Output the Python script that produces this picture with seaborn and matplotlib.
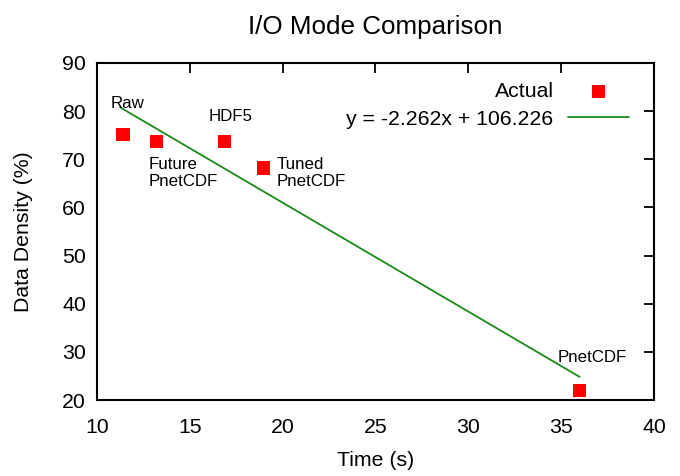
import numpy as np
import pandas as pd
import matplotlib
matplotlib.use("Agg")
import matplotlib.pyplot as plt
import seaborn as sns

modes = ["Raw", "Future\nPnetCDF", "HDF5", "Tuned\nPnetCDF", "PnetCDF"]
time_s = [11.4, 13.2, 16.85, 18.95, 36.0]
density = [75.2, 73.7, 73.7, 68.2, 22.0]
slope = -2.262
intercept = 106.226
fit_x = [11.25, 36.0]

sns.set_theme(style="white")
plt.rcParams["font.family"] = ["Liberation Sans", "DejaVu Sans"]
plt.rcParams["text.color"] = "black"
plt.rcParams["axes.labelcolor"] = "black"

df = pd.DataFrame({"Time": time_s, "Density": density, "Mode": modes})
fit_df = pd.DataFrame({"x": fit_x, "y": [slope * v + intercept for v in fit_x]})

fig = plt.figure(figsize=(6.8, 4.76), dpi=100)
ax = fig.add_axes([97 / 680, 1 - 400 / 476, (654 - 97) / 680, (400 - 63) / 476])

sns.scatterplot(data=df, x="Time", y="Density", ax=ax, marker="s", s=90,
                color="#ff0000", edgecolor="none", label="Actual", zorder=3)
sns.lineplot(data=fit_df, x="x", y="y", ax=ax, color="#1a8a1a", linewidth=1.3,
             label=f"y = {slope:.3f}x + {intercept:.3f}", zorder=2)

# point labels
offsets = {
    "Raw": (-0.65, 6.3, "left", "center"),
    "Future\nPnetCDF": (-0.4, -3.2, "left", "top"),
    "HDF5": (0.37, 5.1, "center", "center"),
    "Tuned\nPnetCDF": (0.75, 2.2, "left", "top"),
    "PnetCDF": (0.7, 6.8, "center", "center"),
}
for m, x, y in zip(modes, time_s, density):
    dx, dy, ha, va = offsets[m]
    ax.text(x + dx, y + dy, m, ha=ha, va=va, fontsize=12.2, color="black",
            linespacing=1.15)

ax.set_xlim(10, 40)
ax.set_ylim(20, 90)
ax.set_xticks([10, 15, 20, 25, 30, 35, 40])
ax.set_yticks([20, 30, 40, 50, 60, 70, 80, 90])
ax.tick_params(direction="in", length=7, width=1.3, top=True, right=True,
               labelsize=15.3, colors="black")
ax.tick_params(axis="x", pad=13)
ax.tick_params(axis="y", pad=8)
for sp in ax.spines.values():
    sp.set_visible(True)
    sp.set_color("black")
    sp.set_linewidth(1.5)
ax.set_xlabel("Time (s)", fontsize=15.3)
ax.set_ylabel("Data Density (%)", fontsize=15.3)
ax.xaxis.set_label_coords(0.5, -0.152)
ax.yaxis.set_label_coords(-0.115, 0.5)
ax.set_title("I/O Mode Comparison", fontsize=18.7, pad=21)

leg = ax.legend(loc="upper right", frameon=False, markerfirst=False,
                fontsize=15.3, handlelength=2.85, handletextpad=0.7,
                borderaxespad=0.0, borderpad=0.0,
                labelspacing=0.42, bbox_to_anchor=(1 - 25 / 557, 1 - 19 / 337))
for t in leg.get_texts():
    t.set_ha("right")

fig.savefig("out.png", dpi=100)
